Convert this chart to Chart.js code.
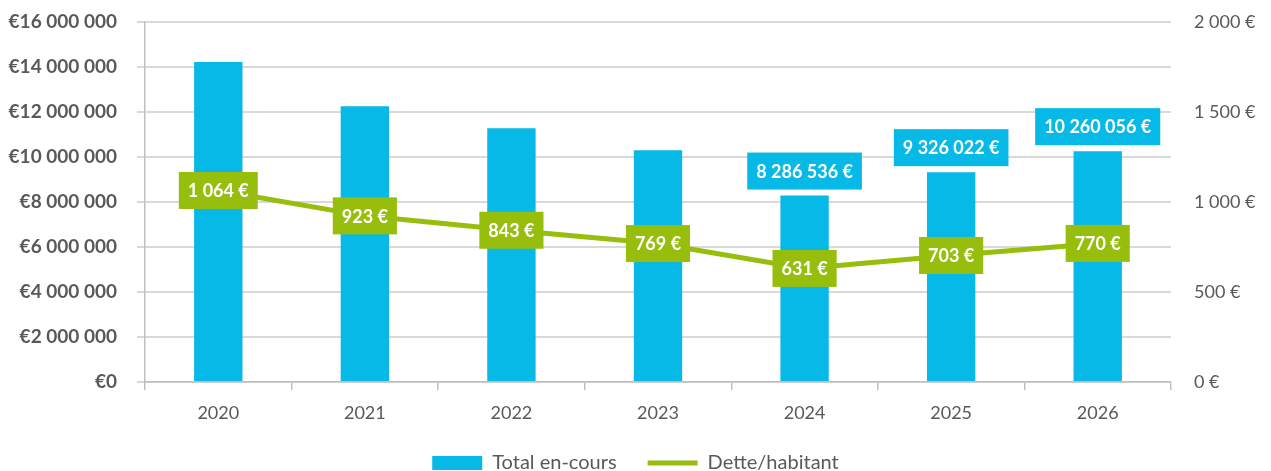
<!DOCTYPE html>
<html>
<head>
<meta charset="utf-8">
<script src="https://cdn.jsdelivr.net/npm/chart.js@4"></script>
<style>
	html, body { margin: 0; padding: 0; background: #ffffff; }
	#wrap { width: 1271px; height: 471px; }
</style>
</head>
<body>
<div id="wrap"><canvas id="chart" width="1271" height="471"></canvas></div>
<script>
const years = ['2020', '2021', '2022', '2023', '2024', '2025', '2026'];
const totalEncours = [14220000, 12260000, 11280000, 10300000, 8286536, 9326022, 10260056];
const detteHabitant = [1064, 923, 843, 769, 631, 703, 770];
const showBarLabel = [false, false, false, false, true, true, true];

const blue = '#07B9E7';
const green = '#97BE0D';
const grey = '#595959';
const font = 'Lato, "Open Sans", sans-serif';

const spaced = (v) => String(Math.round(v)).replace(/\B(?=(\d{3})+(?!\d))/g, ' ');

const drawTag = (ctx, text, cx, cy, bg) => {
	ctx.font = 'bold 18px ' + font;
	const w = ctx.measureText(text).width + 18;
	const h = 37;
	ctx.fillStyle = bg;
	ctx.fillRect(cx - w / 2, cy - h / 2, w, h);
	ctx.fillStyle = '#ffffff';
	ctx.textAlign = 'center';
	ctx.textBaseline = 'middle';
	ctx.fillText(text, cx, cy + 1);
}

const tagPlugin = {
	id: 'tags',
	afterDatasetsDraw(chart) {
		const ctx = chart.ctx;
		ctx.save();
		const barMeta = chart.getDatasetMeta(0);
		barMeta.data.forEach((bar, i) => {
			if (!showBarLabel[i]) return;
			drawTag(ctx, spaced(totalEncours[i]) + ' €', bar.x, bar.y - 6 - 18.5, blue);
		});
		const lineMeta = chart.getDatasetMeta(1);
		lineMeta.data.forEach((pt, i) => {
			drawTag(ctx, spaced(detteHabitant[i]) + ' €', pt.x, pt.y, green);
		});
		ctx.restore();
	}
};

const fitY = (w) => (s) => {
	s.width = w;
	s.paddingTop = 0;
	s.paddingBottom = 0;
};

const ctx = document.getElementById('chart').getContext('2d');
new Chart(ctx, {
	type: 'bar',
	data: {
		labels: years,
		datasets: [
			{
				label: 'Total en-cours',
				data: totalEncours,
				backgroundColor: blue,
				yAxisID: 'y',
				barPercentage: 0.33,
				categoryPercentage: 1,
				order: 2
			},
			{
				type: 'line',
				label: 'Dette/habitant',
				data: detteHabitant,
				borderColor: green,
				backgroundColor: green,
				borderWidth: 5,
				pointRadius: 0,
				tension: 0,
				yAxisID: 'y1',
				order: 1
			}
		]
	},
	options: {
		responsive: false,
		animation: false,
		layout: { padding: { top: 22, bottom: -12 } },
		plugins: {
			tooltip: { enabled: false },
			legend: {
				position: 'bottom',
				labels: {
					color: grey,
					font: { family: font, size: 20 },
					usePointStyle: true,
					pointStyleWidth: 50,
					boxHeight: 14,
					padding: 31,
					generateLabels: () => [
						{ text: 'Total en-cours', fillStyle: blue, strokeStyle: blue, lineWidth: 0, pointStyle: 'rect', fontColor: grey },
						{ text: 'Dette/habitant', fillStyle: green, strokeStyle: green, lineWidth: 5, pointStyle: 'line', fontColor: grey }
					]
				}
			}
		},
		scales: {
			x: {
				afterFit: (s) => { s.height = 40; },
				grid: { offset: true, drawOnChartArea: false, drawTicks: true, tickLength: 8, color: '#BFBFBF', lineWidth: 1.5 },
				border: { color: '#BFBFBF', width: 1.5 },
				ticks: { color: grey, font: { family: font, size: 18 }, padding: 12 }
			},
			y: {
				position: 'left',
				min: 0,
				max: 16000000,
				afterFit: fitY(145),
				grid: { color: '#D9D9D9', lineWidth: 2, tickLength: 8 },
				border: { color: '#BFBFBF', width: 1.5 },
				ticks: {
					stepSize: 2000000,
					color: grey,
					padding: 20,
					font: { family: font, size: 19, weight: 'bold' },
					callback: (v) => '€' + spaced(v)
				}
			},
			y1: {
				position: 'right',
				min: 0,
				max: 2000,
				afterFit: fitY(100),
				grid: { display: false },
				border: { display: false },
				ticks: {
					stepSize: 500,
					color: grey,
					padding: 15,
					font: { family: font, size: 18 },
					callback: (v) => spaced(v) + ' €'
				}
			}
		}
	},
	plugins: [tagPlugin]
});
</script>
</body>
</html>
